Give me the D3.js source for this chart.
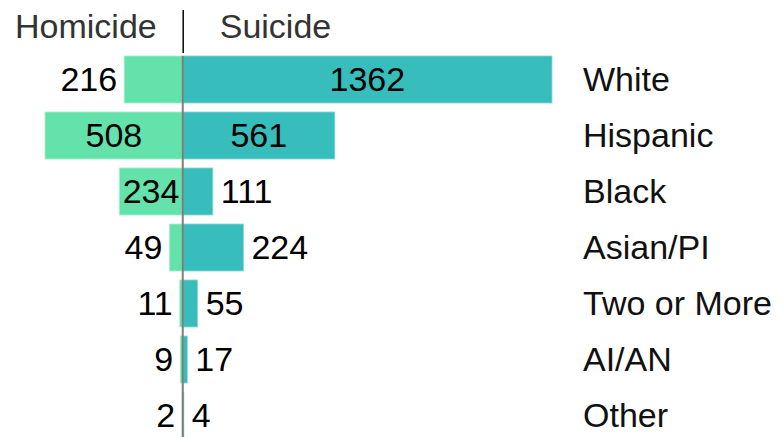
<!DOCTYPE html>
<html><head><meta charset="utf-8">
<script src="https://cdn.jsdelivr.net/npm/d3@7"></script>
<style>body{margin:0;background:#fff}svg{display:block}text{font-family:"Liberation Sans",Arial,sans-serif}</style>
</head><body><svg id="c" width="784" height="437"></svg>
<script>
const categories = ["White","Hispanic","Black","Asian/PI","Two or More","AI/AN","Other"];
const homicide = [216,508,234,49,11,9,2];
const suicide = [1362,561,111,224,55,17,4];
const seriesNames = ["Homicide","Suicide"];

const svg = d3.select("#c");
const fs = 34;
const x = d3.scaleLinear().domain([-508,1362]).range([45,552]);
const y = d3.scaleBand().domain(categories).range([51.5,443.5]).paddingInner(0.16).paddingOuter(0.08);
const x0 = x(0);
const cHom = "#64e2ab", cSui = "#38bdbd";

const g = svg.append("g");
g.selectAll(".h").data(categories).join("rect")
  .attr("x", (d,i)=>x(-homicide[i])).attr("y", d=>y(d))
  .attr("width", (d,i)=>x0-x(-homicide[i])).attr("height", y.bandwidth())
  .attr("fill", cHom).attr("stroke","#a8f0d0").attr("stroke-width",0.8);
g.selectAll(".s").data(categories).join("rect")
  .attr("x", x0).attr("y", d=>y(d))
  .attr("width", (d,i)=>x(suicide[i])-x0).attr("height", y.bandwidth())
  .attr("fill", cSui).attr("stroke","#8ad8d8").attr("stroke-width",0.8);

svg.append("line").attr("x1",x0).attr("x2",x0).attr("y1",y(categories[0])).attr("y2",437)
  .attr("stroke","#7f7f7f").attr("stroke-width",2);
svg.append("line").attr("x1",x0+0.5).attr("x2",x0+0.5).attr("y1",10).attr("y2",53)
  .attr("stroke","#111").attr("stroke-width",1.6);

svg.append("text").attr("x",x0-26).attr("y",38).attr("text-anchor","end")
  .attr("font-size",fs).attr("fill","#333").text(seriesNames[0]);
svg.append("text").attr("x",x0+37).attr("y",38).attr("text-anchor","start")
  .attr("font-size",fs).attr("fill","#333").text(seriesNames[1]);

const thr = 62;
const dy = 11;
g.selectAll(".hl").data(categories).join("text")
  .attr("font-size",fs).attr("fill","#000")
  .each(function(d,i){
    const w = x0 - x(-homicide[i]);
    const t = d3.select(this).attr("y", y(d)+y.bandwidth()/2+dy).text(homicide[i]);
    if (w >= thr) t.attr("x", x0 - w/2).attr("text-anchor","middle");
    else t.attr("x", x(-homicide[i]) - 7).attr("text-anchor","end");
  });
g.selectAll(".sl").data(categories).join("text")
  .attr("font-size",fs).attr("fill","#000")
  .each(function(d,i){
    const w = x(suicide[i]) - x0;
    const t = d3.select(this).attr("y", y(d)+y.bandwidth()/2+dy).text(suicide[i]);
    if (w >= thr) t.attr("x", x0 + w/2).attr("text-anchor","middle");
    else t.attr("x", x(suicide[i]) + 8).attr("text-anchor","start");
  });
g.selectAll(".cl").data(categories).join("text")
  .attr("font-size",fs).attr("fill","#111")
  .attr("x",583).attr("y", d=>y(d)+y.bandwidth()/2+dy).text(d=>d);
</script></body></html>
